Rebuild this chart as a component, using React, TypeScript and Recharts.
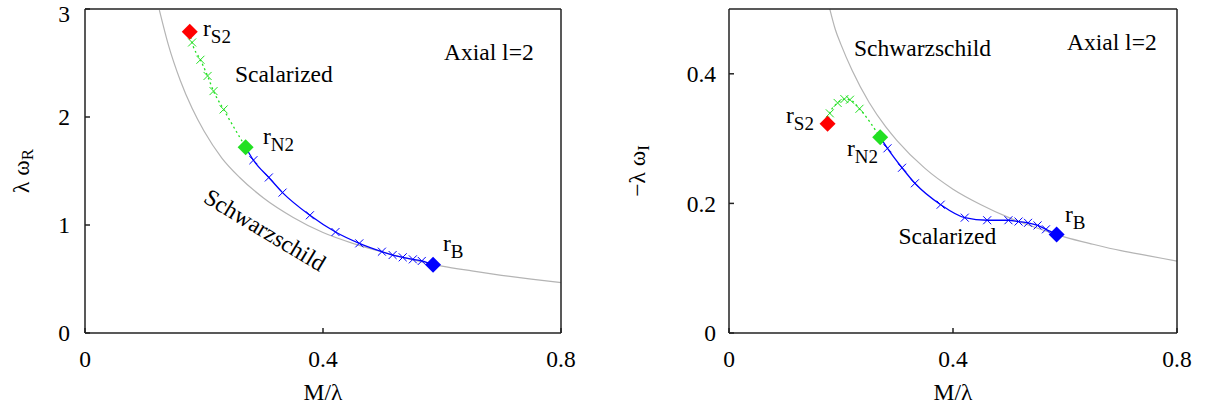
import React from "react";
import { ComposedChart, Line, Scatter, XAxis, YAxis, ReferenceDot, Label } from "recharts";

const FONT = "Liberation Serif";
const FS = 23.5;
const SUB = 17;

// Schwarzschild reference curves
const schwarzX = [0.125, 0.14, 0.16, 0.18, 0.2, 0.23, 0.26, 0.3, 0.35, 0.4, 0.45, 0.5, 0.55, 0.6, 0.65, 0.7, 0.75, 0.8];
const schwarzOmegaR = [2.99, 2.67, 2.34, 2.08, 1.87, 1.62, 1.44, 1.25, 1.07, 0.93, 0.83, 0.75, 0.68, 0.62, 0.575, 0.534, 0.498, 0.467];
const schwarzXI = [0.18, 0.19, 0.2, 0.22, 0.25, 0.28, 0.3, 0.35, 0.4, 0.45, 0.5, 0.55, 0.6, 0.65, 0.7, 0.75, 0.8];
const schwarzOmegaI = [0.5, 0.468, 0.445, 0.405, 0.356, 0.318, 0.297, 0.254, 0.222, 0.198, 0.178, 0.162, 0.148, 0.137, 0.127, 0.119, 0.111];

// scalarized branch between r_S2 and r_N2 (green, dotted)
const greenX = [0.18, 0.194, 0.206, 0.216, 0.233];
const greenOmegaR = [2.69, 2.53, 2.38, 2.24, 2.07];
const greenOmegaI = [0.339, 0.355, 0.361, 0.36, 0.346];

// scalarized branch between r_N2 and r_B (blue, solid)
const blueX = [0.283, 0.309, 0.332, 0.378, 0.421, 0.461, 0.499, 0.517, 0.534, 0.551, 0.566];
const blueOmegaR = [1.6, 1.44, 1.3, 1.09, 0.935, 0.83, 0.753, 0.722, 0.701, 0.682, 0.667];
const blueOmegaI = [0.285, 0.255, 0.231, 0.198, 0.178, 0.174, 0.174, 0.172, 0.17, 0.166, 0.16];

// special points: r_S2, r_N2, r_B
const specialX = { S2: 0.176, N2: 0.27, B: 0.585 };
const specialOmegaR = { S2: 2.79, N2: 1.72, B: 0.632 };
const specialOmegaI = { S2: 0.323, N2: 0.302, B: 0.152 };

const xTicks = [0, 0.4, 0.8];

const zip = (xs: number[], ys: number[]) => xs.map((x, i) => ({ x, y: ys[i] }));

function buildSeries(w: "R" | "I") {
  const sx = w === "R" ? schwarzX : schwarzXI;
  const sy = w === "R" ? schwarzOmegaR : schwarzOmegaI;
  const gy = w === "R" ? greenOmegaR : greenOmegaI;
  const by = w === "R" ? blueOmegaR : blueOmegaI;
  const sp = w === "R" ? specialOmegaR : specialOmegaI;
  const s2 = { x: specialX.S2, y: sp.S2 };
  const n2 = { x: specialX.N2, y: sp.N2 };
  const b = { x: specialX.B, y: sp.B };
  const green = zip(greenX, gy);
  const blue = zip(blueX, by);
  return {
    schwarz: zip(sx, sy),
    green,
    blue,
    greenLine: [s2, ...green, n2],
    blueLine: [n2, ...blue, b],
    s2: [s2],
    n2: [n2],
    b: [b],
  };
}

const cross = (color: string) => (p: any) => {
  const { cx, cy } = p;
  const s = 4;
  return (
    <path
      d={`M${cx - s},${cy - s}L${cx + s},${cy + s}M${cx - s},${cy + s}L${cx + s},${cy - s}`}
      stroke={color}
      strokeWidth={1}
      fill="none"
    />
  );
};

const diamond = (color: string) => (p: any) => {
  const { cx, cy } = p;
  const s = 8;
  return <path d={`M${cx},${cy - s}L${cx + s},${cy}L${cx},${cy + s}L${cx - s},${cy}Z`} fill={color} />;
};

const plainText = (txt: string, rotate = 0, anchor: "start" | "middle" = "start") => (p: any) => (
  <text
    x={p.cx}
    y={p.cy}
    style={{ fontFamily: FONT }}
    fontSize={FS}
    fill="#000"
    textAnchor={anchor}
    dominantBaseline={rotate ? "central" : "auto"}
    transform={rotate ? `rotate(${rotate} ${p.cx} ${p.cy})` : undefined}
  >
    {txt}
  </text>
);

const subText = (base: string, sub: string) => (p: any) => (
  <text x={p.cx} y={p.cy} style={{ fontFamily: FONT }} fontSize={FS} fill="#000">
    <tspan>{base}</tspan>
    <tspan dy={7} fontSize={SUB + 2}>{sub}</tspan>
  </text>
);

const noTick = () => <g />;

type Note = { x: number; y: number; shape: (p: any) => React.ReactElement };

type PanelProps = {
  left: number;
  width: number;
  plotLeft: number;
  plotRight: number;
  yDomain: [number, number];
  yTicks: number[];
  yTickMargin: number;
  w: "R" | "I";
  yTitle: (vb: any) => React.ReactElement;
  notes: Note[];
};

const AXIS = "#222";

function Panel(props: PanelProps) {
  const s = buildSeries(props.w);
  const height = 411;
  const top = 9;
  const bottom = 333;
  const yAxisW = 40;
  const rightAxisW = 10;
  return (
    <div style={{ position: "absolute", left: props.left, top: 0 }}>
      <ComposedChart
        width={props.width}
        height={height}
        margin={{
          top: top - 5,
          bottom: height - bottom - 30,
          left: props.plotLeft - yAxisW,
          right: props.width - props.plotRight - rightAxisW,
        }}
        style={{ fontFamily: FONT }}
      >
        <XAxis
          xAxisId={0}
          dataKey="x"
          type="number"
          domain={[0, 0.8]}
          ticks={xTicks}
          tickFormatter={(v: number) => String(v)}
          tickSize={-5}
          tickMargin={22}
          height={30}
          stroke={AXIS}
          strokeWidth={1.5}
          tick={{ fill: "#000", fontSize: FS, fontFamily: FONT }}
        >
          <Label
            content={(lp: any) => {
              const vb = lp.viewBox;
              return (
                <text x={vb.x + vb.width / 2} y={400} textAnchor="middle" style={{ fontFamily: FONT }} fontSize={FS} fill="#000">
                  M/λ
                </text>
              );
            }}
          />
        </XAxis>
        <XAxis
          xAxisId="top"
          orientation="top"
          type="number"
          domain={[0, 0.8]}
          ticks={xTicks}
          tickSize={-5}
          height={5}
          stroke={AXIS}
          strokeWidth={1.5}
          tick={noTick}
        />
        <YAxis
          yAxisId={0}
          dataKey="y"
          type="number"
          domain={props.yDomain}
          ticks={props.yTicks}
          tickFormatter={(v: number) => String(v)}
          tickSize={-5}
          tickMargin={props.yTickMargin}
          width={yAxisW}
          stroke={AXIS}
          strokeWidth={1.5}
          tick={{ fill: "#000", fontSize: FS, fontFamily: FONT }}
        >
          <Label content={(lp: any) => props.yTitle(lp.viewBox)} />
        </YAxis>
        <YAxis
          yAxisId="right"
          orientation="right"
          type="number"
          domain={props.yDomain}
          ticks={props.yTicks}
          tickSize={-5}
          width={rightAxisW}
          stroke={AXIS}
          strokeWidth={1.5}
          tick={noTick}
        />
        <Line
          data={s.schwarz}
          dataKey="y"
          type="monotone"
          stroke="#b4b4b4"
          strokeWidth={1.2}
          dot={false}
          activeDot={false}
          isAnimationActive={false}
        />
        <Line
          data={s.greenLine}
          dataKey="y"
          type="monotone"
          stroke="#22e022"
          strokeWidth={1.3}
          strokeDasharray="2 3"
          dot={false}
          activeDot={false}
          isAnimationActive={false}
        />
        <Line
          data={s.blueLine}
          dataKey="y"
          type="monotone"
          stroke="#0000ff"
          strokeWidth={1.3}
          dot={false}
          activeDot={false}
          isAnimationActive={false}
        />
        <Scatter data={s.green} dataKey="y" shape={cross("#22e022")} isAnimationActive={false} />
        <Scatter data={s.blue} dataKey="y" shape={cross("#0000ff")} isAnimationActive={false} />
        <Scatter data={s.s2} dataKey="y" shape={diamond("#ff0000")} isAnimationActive={false} />
        <Scatter data={s.n2} dataKey="y" shape={diamond("#22e022")} isAnimationActive={false} />
        <Scatter data={s.b} dataKey="y" shape={diamond("#0000ff")} isAnimationActive={false} />
        {props.notes.map((n, i) => (
          <ReferenceDot key={i} x={n.x} y={n.y} r={0} ifOverflow="visible" shape={n.shape} />
        ))}
      </ComposedChart>
    </div>
  );
}

const leftNotes: Note[] = [
  { x: 0.6034, y: 2.53, shape: plainText("Axial l=2") },
  { x: 0.252, y: 2.324, shape: plainText("Scalarized") },
  { x: 0.3025, y: 0.954, shape: plainText("Schwarzschild", 31, "middle") },
  { x: 0.1983, y: 2.75, shape: subText("r", "S2") },
  { x: 0.299, y: 1.75, shape: subText("r", "N2") },
  { x: 0.6017, y: 0.759, shape: subText("r", "B") },
];

const rightNotes: Note[] = [
  { x: 0.6036, y: 0.4367, shape: plainText("Axial l=2") },
  { x: 0.2232, y: 0.4275, shape: plainText("Schwarzschild") },
  { x: 0.3025, y: 0.1373, shape: plainText("Scalarized") },
  { x: 0.1018, y: 0.324, shape: subText("r", "S2") },
  { x: 0.2107, y: 0.2731, shape: subText("r", "N2") },
  { x: 0.6, y: 0.1713, shape: subText("r", "B") },
];

const leftTitle = (vb: any) => {
  const cx = 21;
  const cy = vb.y + vb.height / 2;
  return (
    <text x={cx} y={cy} transform={`rotate(-90 ${cx} ${cy})`} textAnchor="middle" dominantBaseline="central" style={{ fontFamily: FONT }} fontSize={FS} fill="#000">
      <tspan>λ ω</tspan>
      <tspan dy={6} fontSize={SUB}>R</tspan>
    </text>
  );
};

const rightTitle = (vb: any) => {
  const cx = 37;
  const cy = vb.y + vb.height / 2;
  return (
    <text x={cx} y={cy} transform={`rotate(-90 ${cx} ${cy})`} textAnchor="middle" dominantBaseline="central" style={{ fontFamily: FONT }} fontSize={FS} fill="#000">
      <tspan>−λ ω</tspan>
      <tspan dy={6} fontSize={SUB}>I</tspan>
    </text>
  );
};

export default function App() {
  return (
    <div style={{ position: "absolute", left: 0, top: 0, width: 1206, height: 411, background: "#fff" }}>
      <Panel
        left={0}
        width={600}
        plotLeft={85}
        plotRight={561}
        yDomain={[0, 3]}
        yTicks={[0, 1, 2, 3]}
        yTickMargin={20}
        w="R"
        yTitle={leftTitle}
        notes={leftNotes}
      />
      <Panel
        left={600}
        width={606}
        plotLeft={129}
        plotRight={577}
        yDomain={[0, 0.5]}
        yTicks={[0, 0.2, 0.4]}
        yTickMargin={18}
        w="I"
        yTitle={rightTitle}
        notes={rightNotes}
      />
    </div>
  );
}
